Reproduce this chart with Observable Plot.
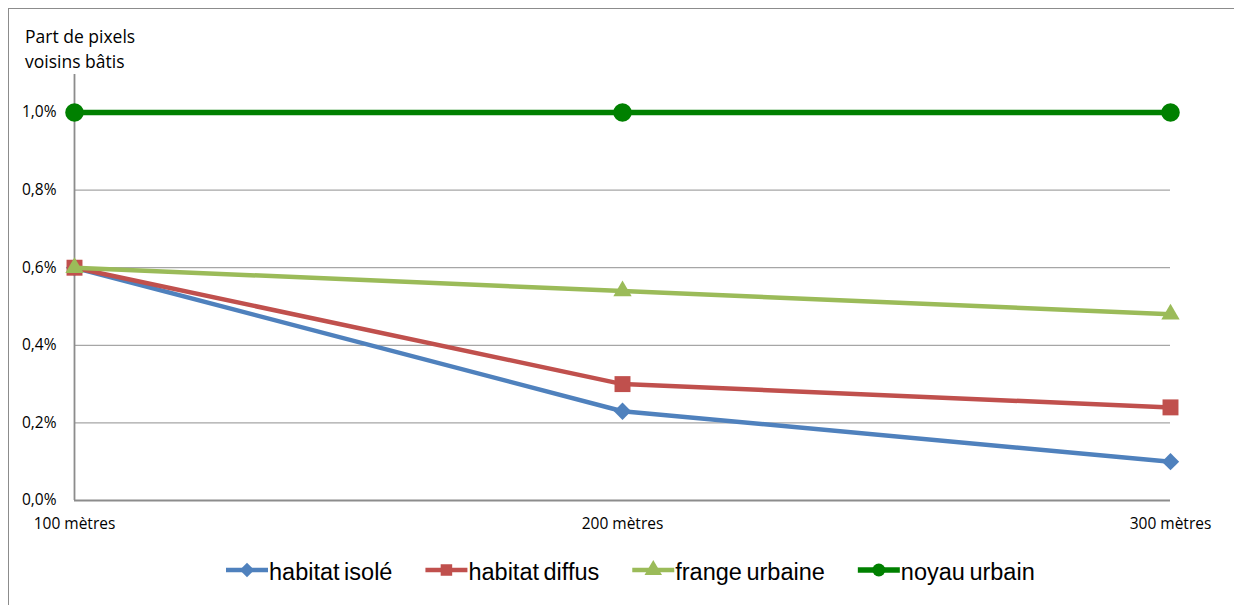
<!DOCTYPE html>
<html>
<head>
<meta charset="utf-8">
<script src="https://cdn.jsdelivr.net/npm/d3@7"></script>
<script src="https://cdn.jsdelivr.net/npm/@observablehq/plot@0.6"></script>
<style>
  html, body { margin: 0; padding: 0; background: #fff; width: 1234px; height: 605px; overflow: hidden; }
  #wrap { position: relative; width: 1234px; height: 605px; }
  #frame { position: absolute; left: 8px; top: 8px; width: 1300px; height: 700px; border: 1px solid #8c8c8c; box-sizing: border-box; pointer-events: none; }
  #title { position: absolute; left: 25px; top: 24px; font-family: "Open Sans", "Liberation Sans", sans-serif; font-size: 17.5px; line-height: 25px; color: #000; }
  #chart { position: absolute; left: 0; top: 0; }
  #legend { position: absolute; left: 226px; top: 555px; height: 32px; }
</style>
</head>
<body>
<div id="wrap">
  <div id="chart"></div>
  <div id="frame"></div>
  <div id="title">Part de pixels<br>voisins bâtis</div>
  <div id="legend"></div>
</div>
<script>
// Data
const distances = [100, 200, 300];
const distanceLabels = ["100 mètres", "200 mètres", "300 mètres"];
const seriesNames = ["habitat isolé", "habitat diffus", "frange urbaine", "noyau urbain"];
const habitatIsole = [0.60, 0.23, 0.10];
const habitatDiffus = [0.60, 0.30, 0.24];
const frangeUrbaine = [0.60, 0.54, 0.48];
const noyauUrbain = [1.00, 1.00, 1.00];
const yTicks = [0, 0.2, 0.4, 0.6, 0.8, 1.0];

const seriesValues = [habitatIsole, habitatDiffus, frangeUrbaine, noyauUrbain];
const colors = ["#4F81BD", "#C0504D", "#9BBB59", "#008000"];
const symbols = ["diamond2", "square", "triangle", "circle"];
const radii = [7.8, 9, 6.8, 9.3];
const widths = [4.5, 4.5, 4.5, 5.5];

const rows = seriesNames.flatMap((name, i) =>
  distances.map((d, j) => ({ series: name, x: d, y: seriesValues[i][j], idx: i }))
);

const fmt = v => v.toFixed(1).replace(".", ",") + "%";

const marks = [
  Plot.ruleY(yTicks.filter(t => t > 0), { stroke: "#a6a6a6", strokeWidth: 1.3 }),
  Plot.ruleY([0], { stroke: "#8c8c8c", strokeWidth: 1.8 }),
  Plot.ruleX([100], { y1: 0, y2: 1.098, stroke: "#8c8c8c", strokeWidth: 1.8 }),
  Plot.axisY({ ticks: yTicks, tickFormat: fmt, tickSize: 0, tickPadding: 18, fill: "#000", label: null }),
  Plot.axisX({ ticks: distances, tickFormat: d => distanceLabels[distances.indexOf(d)], tickSize: 0, tickPadding: 17, fill: "#000", label: null })
];
seriesNames.forEach((name, i) => {
  const data = rows.filter(r => r.idx === i);
  marks.push(Plot.line(data, { x: "x", y: "y", stroke: colors[i], strokeWidth: widths[i] }));
  marks.push(Plot.dot(data, { x: "x", y: "y", fill: colors[i], symbol: () => symbols[i], r: radii[i], stroke: "none" }));
});

const plot = Plot.plot({
  width: 1234,
  height: 545,
  marginLeft: 74,
  marginRight: 64,
  marginTop: 74,
  marginBottom: 45,
  x: { type: "linear", domain: [100, 300] },
  y: { domain: [0, 1.098] },
  symbol: { type: "identity" },
  style: { background: "transparent", overflow: "visible", fontSize: "15.5px", fontFamily: "Open Sans, Liberation Sans, sans-serif" },
  marks
});
document.getElementById("chart").appendChild(plot);

// Legend
const legendGap = 33;
const swatchW = 42;
const symMap = { diamond2: d3.symbolDiamond2, square: d3.symbolSquare, triangle: d3.symbolTriangle, circle: d3.symbolCircle };
const lsvg = d3.select("#legend").append("svg").attr("width", 1000).attr("height", 32)
  .style("overflow", "visible");
let xpos = 0;
seriesNames.forEach((name, i) => {
  const g = lsvg.append("g").attr("transform", `translate(${xpos},0)`);
  g.append("line").attr("x1", 0).attr("x2", swatchW).attr("y1", 15).attr("y2", 15)
    .attr("stroke", colors[i]).attr("stroke-width", widths[i]);
  g.append("path").attr("transform", `translate(${swatchW / 2},15)`).attr("fill", colors[i])
    .attr("d", d3.symbol(symMap[symbols[i]], Math.PI * 6.5 * 6.5)());
  const t = g.append("text").attr("x", swatchW + 1).attr("y", 25)
    .attr("font-family", "Liberation Sans, Arial, sans-serif").attr("font-size", 23.5)
    .attr("word-spacing", "-2px")
    .text(name);
  const w = t.node().getComputedTextLength();
  xpos += swatchW + 1 + w + legendGap;
});
</script>
</body>
</html>
